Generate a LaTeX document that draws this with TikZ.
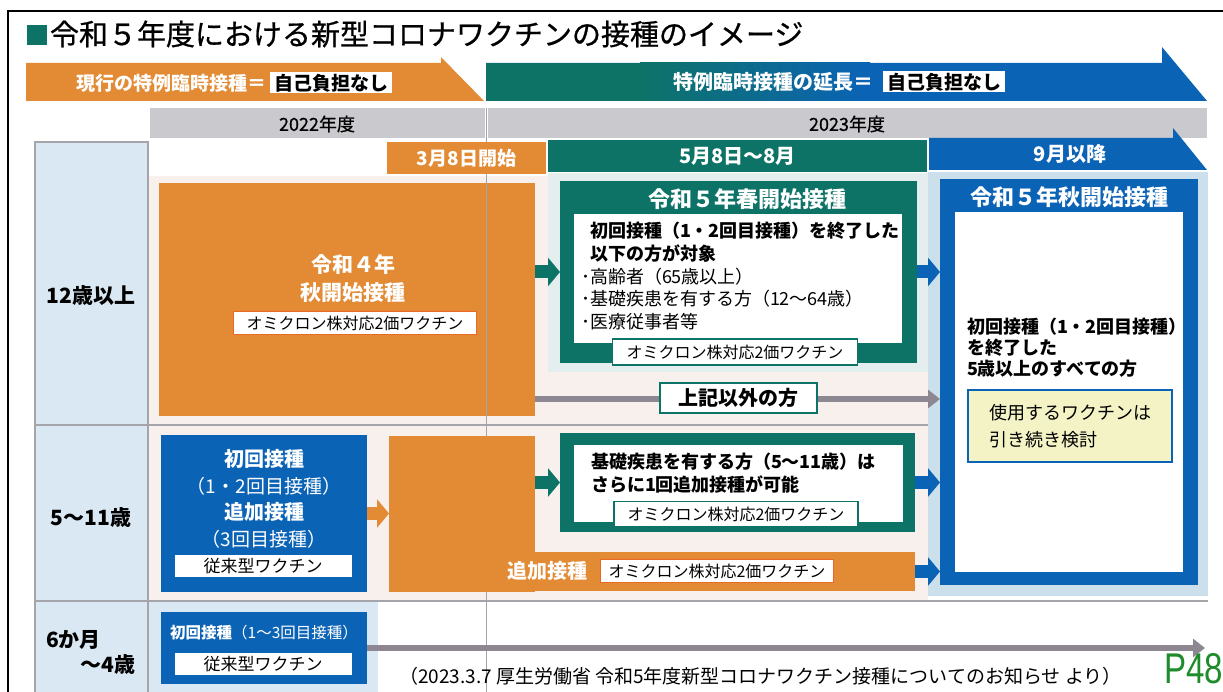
\documentclass[tikz,border=0pt]{standalone}
\usepackage{fontspec}
\setmainfont{Noto Sans CJK JP}
\newfontfamily\mediumfont{Noto Sans CJK JP}[FakeBold=0.7]
\newfontfamily\pagefont{Liberation Sans}
\usetikzlibrary{arrows.meta, positioning, calc}

\definecolor{vorange}{HTML}{E38A34}
\definecolor{vteal}{HTML}{0D7367}
\definecolor{vblue}{HTML}{0B63B6}
\definecolor{yearband}{HTML}{C9C9CE}
\definecolor{agecol}{HTML}{D9E8F2}
\definecolor{autumnbg}{HTML}{CCE0EC}
\definecolor{springbg}{HTML}{E4EEEE}
\definecolor{palepink}{HTML}{F8F0EC}
\definecolor{arrowgray}{HTML}{8C8791}
\definecolor{gridgray}{HTML}{A4A4AA}
\definecolor{paleyellow}{HTML}{F3F3C6}
\definecolor{pagegreen}{HTML}{1E8C2A}

\newcommand{\pxsize}[1]{\fontsize{#1}{#1}\selectfont}
\newcommand{\pxlines}[2]{\fontsize{#1}{#2}\selectfont}

\begin{document}
\begin{tikzpicture}[x=1pt, y=-1pt,
    every node/.style={inner sep=0pt, outer sep=0pt},
    panel/.style={fill=#1, anchor=north west},
    whitehead/.style={text=white, font=\bfseries\pxsize{#1}},
    vaxtag/.style={fill=white, draw=#1, line width=1.2pt, minimum width=244pt, minimum height=24pt, font=\pxsize{16}},
    oldtag/.style={fill=white, minimum width=177pt, minimum height=22pt, font=\pxsize{17}},
    fatarrow/.style={draw=#1, line width=13pt, -{Triangle[length=12pt, width=28pt]}},
    flowarrow/.style={draw=arrowgray, line width=6pt, -{Triangle[length=12pt, width=18pt]}},
    gridline/.style={draw=gridgray, line width=1.5pt}]

    \useasboundingbox (0,0) rectangle (1223,692);

    % frame and title
    \draw[line width=2pt] (8,692) -- (8,11) -- (1223,11);
    \fill[vteal] (27,25) rectangle (47,45);
    \node[anchor=west, font=\mediumfont\pxsize{29}] (title) at (50,34) {令和５年度における新型コロナワクチンの接種のイメージ};

    % top arrows
    \fill[vorange] (26,63) -- (441,63) -- (441,57) -- (484,101) -- (26,101) -- cycle;
    \node[whitehead=19, anchor=west] (nowlabel) at (76,83) {現行の特例臨時接種＝};
    \node[fill=white, font=\bfseries\pxsize{19}, minimum width=122pt, minimum height=21pt, right=4pt of nowlabel] (nowfee) {自己負担なし};

    \fill[vblue] (486,63) -- (1162,63) -- (1162,47) -- (1207,101) -- (486,101) -- cycle;
    \fill[vteal] (486,63) rectangle (640,101);
    \shade[left color=vteal, right color=vblue] (640,63) rectangle (870,101);
    \node[whitehead=20, anchor=west] (extlabel) at (673,82) {特例臨時接種の延長＝};
    \node[fill=white, font=\bfseries\pxsize{19}, minimum width=122pt, minimum height=21pt, right=10pt of extlabel] (extfee) {自己負担なし};

    % fiscal years
    \fill[yearband] (150,108) rectangle (485,138);
    \fill[yearband] (488,108) rectangle (1207,138);
    \node[font=\mediumfont\pxsize{18}] (fy22) at (317,124) {2022年度};
    \node[font=\mediumfont\pxsize{18}] (fy23) at (847,124) {2023年度};

    % backgrounds and grid
    \fill[agecol] (35,142) rectangle (148,692);
    \fill[palepink] (148,176) rectangle (928,600);
    \fill[springbg] (548,173) rectangle (928,372);
    \fill[autumnbg] (928,172) rectangle (1208,596);
    \fill[agecol] (148,602) rectangle (378,692);
    \draw[gridline] (35,692) -- (35,142) -- (148,142) -- (148,692);
    \draw[gridline] (35,425) -- (928,425);
    \draw[gridline] (35,601) -- (1208,601);

    % age groups
    \node[font=\bfseries\pxsize{21}] (age12) at (91,296) {12歳以上};
    \node[font=\bfseries\pxsize{21}] (age5) at (91,518) {5～11歳};
    \node[font=\bfseries\pxsize{21}, anchor=west] (age0a) at (46,640) {6か月};
    \node[font=\bfseries\pxsize{21}, anchor=east] (age0b) at (135,665) {～4歳};

    % 12 and over
    \node[panel=vorange, minimum width=376pt, minimum height=233pt] (aki4) at (159,183) {};
    \draw[gridline] (486.5,108) -- (486.5,692);
    \node[whitehead=21, align=center, font=\bfseries\pxlines{21}{28}] (aki4title) at (353,279) {令和４年\\秋開始接種};
    \node[vaxtag=vorange!75!red, minimum width=243pt, minimum height=23pt] (aki4tag) at (355,323) {オミクロン株対応2価ワクチン};

    % period headers
    \node[panel=vorange, minimum width=159pt, minimum height=32pt, whitehead=19] (start38) at (387,142) {3月8日開始};
    \node[panel=vteal, minimum width=379pt, minimum height=32pt, whitehead=20] (hdrspring) at (548,140) {5月8日～8月};
    \fill[vblue] (929,138) -- (1173,138) -- (1173,128) -- (1207,170) -- (929,170) -- cycle;
    \node[whitehead=20] (hdrautumn) at (1070,154) {9月以降};

    % spring 2023
    \node[panel=vteal, minimum width=357pt, minimum height=182pt] (spring) at (560,181) {};
    \fill[white] (574,214) rectangle (902,343);
    \node[whitehead=22] (springtitle) at (747,199) {令和５年春開始接種};
    \node[anchor=north west, align=left, font=\pxlines{18}{22.8}] (springtext) at (590,222)
        {\textbf{初回接種（1・2回目接種）を終了した}\\\textbf{以下の方が対象}\\\llap{･}高齢者（65歳以上）\\\llap{･}基礎疾患を有する方（12～64歳）\\\llap{･}医療従事者等};
    \node[vaxtag=vteal, minimum width=245pt, minimum height=26pt] (springtag) at (735,352) {オミクロン株対応2価ワクチン};

    % autumn 2023
    \node[panel=vblue, minimum width=258pt, minimum height=406pt] (autumn) at (940,179) {};
    \fill[white] (955,212) rectangle (1183,572);
    \node[whitehead=22] (autumntitle) at (1069,197) {令和５年秋開始接種};
    \node[anchor=north west, align=left, font=\bfseries\pxlines{18}{21}] (autumntext) at (967,318)
        {初回接種（1・2回目接種）\\を終了した\\5歳以上のすべての方};
    \node[panel=paleyellow, draw=vblue, line width=2pt, minimum width=204pt, minimum height=72pt, align=left, font=\pxlines{18}{27}] (undecided) at (968,390)
        {使用するワクチンは\\引き続き検討};

    \coordinate (otherrow) at (0,399);
    \draw[flowarrow] (aki4.east |- otherrow) -- (autumn.west |- otherrow);
    \node[fill=white, draw=vteal, line width=2pt, minimum width=157pt, minimum height=30pt, font=\bfseries\pxsize{20}] (others) at (738,398) {上記以外の方};

    % 5 to 11
    \node[panel=vblue, minimum width=206pt, minimum height=157pt] (kids) at (161,435) {};
    \node[text=white, align=center, font=\pxlines{19}{26.5}] (kidstext) at (264,499)
        {\textbf{\pxsize{20}初回接種}\\（1・2回目接種）\\\textbf{\pxsize{20}追加接種}\\（3回目接種）};
    \node[oldtag] (kidstag) at (263,566) {従来型ワクチン};

    \node[panel=vorange, minimum width=146pt, minimum height=156pt] (kidsorange) at (389,436) {};
    \node[panel=vorange, minimum width=380pt, minimum height=39pt] (band) at (535,552) {};
    \node[whitehead=20] (bandlabel) at (547,571) {追加接種};
    \node[vaxtag=vorange!75!red, minimum width=233pt, minimum height=23pt] (bandtag) at (717,571) {オミクロン株対応2価ワクチン};

    \node[panel=vteal, minimum width=355pt, minimum height=99pt] (kiso) at (560,433) {};
    \fill[white] (574,445) rectangle (903,522);
    \node[anchor=north west, align=left, font=\bfseries\pxlines{18}{22.5}] (kisotext) at (591,453)
        {基礎疾患を有する方（5～11歳）は\\さらに1回追加接種が可能};
    \node[vaxtag=vteal, minimum width=244pt, minimum height=25pt] (kisotag) at (736,514) {オミクロン株対応2価ワクチン};

    % 6 months to 4
    \node[panel=vblue, minimum width=206pt, minimum height=72pt] (infant) at (161,612) {};
    \node[text=white, font=\pxsize{15.5}] (infanttext) at (264,633) {\textbf{初回接種}（1～3回目接種）};
    \node[oldtag] (infanttag) at (263,664) {従来型ワクチン};
    \coordinate (infantend) at (1205,648);
    \draw[flowarrow] (infant.east) -- (infantend);

    % connectors
    \draw[fatarrow=vteal] (aki4.east |- spring.west) -- (spring.west);
    \draw[fatarrow=vblue] (spring.east) -- (spring.east -| autumn.west);
    \draw[fatarrow=vorange] (kids.east) -- (kids.east -| kidsorange.west);
    \draw[fatarrow=vteal] (kidsorange.east |- kiso.west) -- (kiso.west);
    \draw[fatarrow=vblue] (kiso.east) -- (kiso.east -| autumn.west);
    \draw[fatarrow=vblue] (band.east) -- (band.east -| autumn.west);

    % source
    \node[anchor=west, font=\pxsize{19}] (source) at (399,676) {（2023.3.7 厚生労働省 令和5年度新型コロナワクチン接種についてのお知らせ より）};
    \node[anchor=south east, text=pagegreen] (page) at (1223,684) {\scalebox{0.77}[1]{\pagefont\pxsize{43}P48}};
\end{tikzpicture}
\end{document}
